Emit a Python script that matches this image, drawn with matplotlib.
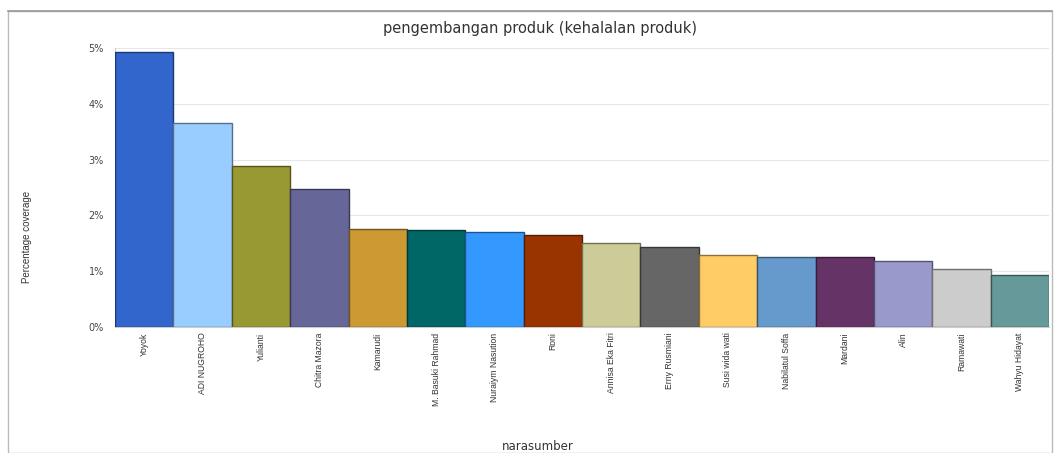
import numpy as np
import matplotlib
matplotlib.use("Agg")
import matplotlib.pyplot as plt
from matplotlib.patches import Rectangle
from matplotlib.ticker import FuncFormatter

# narasumber dan persentase cakupan
names = ["Yoyok", "ADI NUGROHO", "Yulianti", "Chitra Mazora", "Kamarudi",
         "M. Basuki Rahmad", "Nuraiym Nasution", "Roni", "Annisa Eka Fitri",
         "Erny Rusmiani", "Susi wida wati", "Nabilatul Soffa", "Mardani",
         "Alin", "Ramawati", "Wahyu Hidayat"]
values = [4.93, 3.66, 2.89, 2.47, 1.76, 1.74, 1.70, 1.65, 1.51, 1.43,
          1.29, 1.25, 1.25, 1.18, 1.04, 0.93]
colors = ["#3366CC", "#99CCFF", "#999933", "#666699", "#CC9933", "#006666",
          "#3399FF", "#993300", "#CCCC99", "#666666", "#FFCC66", "#6699CC",
          "#663366", "#9999CC", "#CCCCCC", "#669999"]

plt.rcParams['font.family'] = ['Liberation Sans', 'DejaVu Sans']
wide = ['DejaVu Sans']

W, H = 1059, 453
fig = plt.figure(figsize=(W / 100, H / 100), dpi=100)
fig.patch.set_facecolor("white")

# rangka luar
fig.add_artist(Rectangle((8 / W, 0), (1052 - 8) / W, 1 - 11 / H,
                         transform=fig.transFigure, fill=False,
                         edgecolor="#BBBBBB", linewidth=1.0))
fig.add_artist(plt.Line2D([8 / W, 1052 / W], [1 - 11 / H, 1 - 11 / H],
                          transform=fig.transFigure, color="#999999", lw=1.2))

ax = fig.add_axes([115 / W, 1 - 327 / H, (1049 - 115) / W, (327 - 48) / H])

x = np.arange(len(names))
edges = [tuple(c * 0.55 for c in matplotlib.colors.to_rgb(col)) for col in colors]
ax.bar(x, values, width=1.0, color=colors, edgecolor=edges, linewidth=1.0, zorder=3)

ax.set_xlim(-0.5, len(names) - 0.5)
ax.set_ylim(0, 5)
ax.set_yticks(range(0, 6))
ax.yaxis.set_major_formatter(FuncFormatter(lambda v, p: "%d%%" % v))
ax.grid(axis="y", color="#E6E6E6", linewidth=0.8, zorder=0)

for s in ["top", "right"]:
    ax.spines[s].set_visible(False)
ax.spines["left"].set_color("#CCCCCC")
ax.spines["bottom"].set_color("#CCCCCC")

ax.set_xticks(x)
ax.set_xticklabels(names, rotation=90, fontsize=6.2, color="#333333", va="top")
ax.tick_params(axis="x", length=0, pad=4)
ax.tick_params(axis="y", length=0, labelcolor="#444444", pad=8)
for t in ax.get_yticklabels():
    t.set_family(wide)
    t.set_fontsize(7)

fig.text(540 / W, 1 - 28 / H, "pengembangan produk (kehalalan produk)",
         ha="center", va="center", fontsize=10.5, color="#333333", family=wide)
fig.text(27 / W, 1 - 237 / H, "Percentage coverage", rotation=90,
         ha="center", va="center", fontsize=7, color="#333333")
fig.text(538 / W, 1 - 447 / H, "narasumber", ha="center", va="center",
         fontsize=8.5, color="#333333", family=wide)

fig.savefig("out.png", dpi=100)
